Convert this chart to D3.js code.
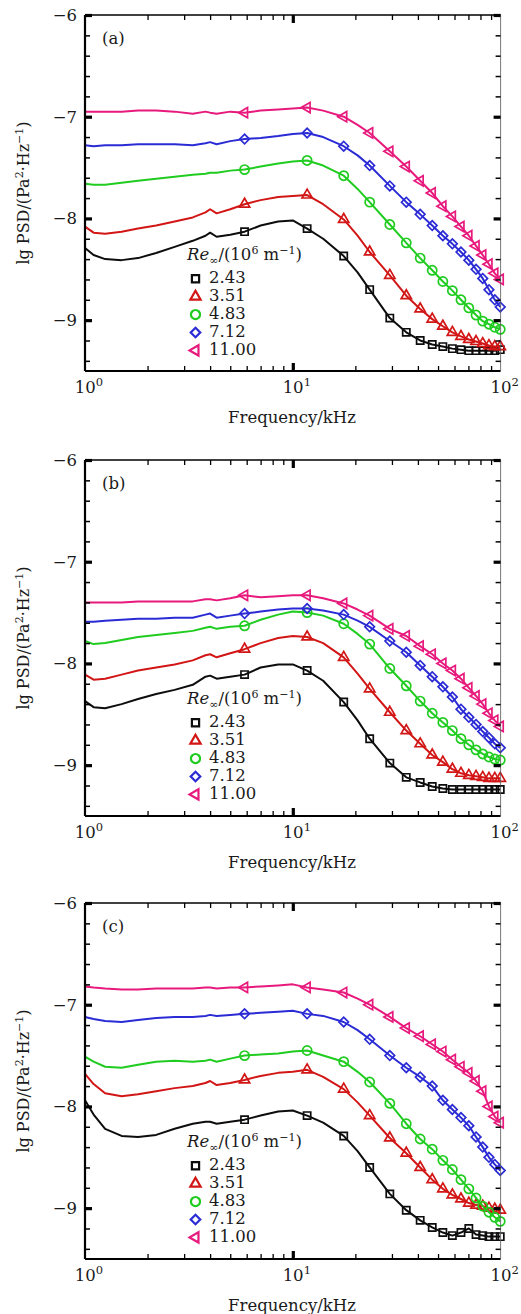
<!DOCTYPE html>
<html lang="en">
<head>
<meta charset="utf-8">
<title>lg PSD spectra</title>
<script src="https://d3js.org/d3.v7.min.js"></script>
<style>
  body { margin: 0; background: #fff; }
  svg { display: block; }
  .lbl { font-family: "DejaVu Serif", "Liberation Serif", serif; fill: #1a1a1a; }
  .axis path { display: none; }
  .axis line { stroke: #000; }
</style>
</head>
<body>
<svg width="521" height="1314"></svg>
<script>
// frequency grid (kHz)
const freq = [1.0, 1.1, 1.25, 1.5, 1.8, 2.2, 2.7, 3.3, 3.8, 4.0, 4.3, 5.0, 5.86, 7.0, 8.5, 10.0,
  11.72, 14.0, 17.58, 20.5, 23.44, 29.3, 35.16, 41.02, 46.88, 52.74, 58.6, 64.46, 70.32, 76.18,
  82.04, 87.9, 93.76, 99.62];
// frequencies carrying a marker symbol
const markFreq = [5.86, 11.72, 17.58, 23.44, 29.3, 35.16, 41.02, 46.88, 52.74, 58.6, 64.46,
  70.32, 76.18, 82.04, 87.9, 93.76, 99.62];

const reNames = ["2.43", "3.51", "4.83", "7.12", "11.00"];
const panelLabels = ["(a)", "(b)", "(c)"];
const yTickLabels = [-6, -7, -8, -9];

// panel (a)
const a243 = [-8.29,-8.36,-8.40,-8.41,-8.39,-8.34,-8.28,-8.22,-8.17,-8.14,-8.18,-8.16,-8.13,-8.07,-8.03,-8.02,
  -8.10,-8.20,-8.37,-8.53,-8.70,-8.98,-9.12,-9.20,-9.24,-9.26,-9.28,-9.29,-9.30,-9.30,-9.30,-9.30,-9.30,-9.29];
const a351 = [-8.08,-8.14,-8.15,-8.13,-8.10,-8.07,-8.03,-7.99,-7.94,-7.91,-7.95,-7.91,-7.86,-7.82,-7.79,-7.78,
  -7.77,-7.86,-8.01,-8.17,-8.33,-8.56,-8.76,-8.89,-8.99,-9.06,-9.12,-9.16,-9.19,-9.21,-9.23,-9.25,-9.26,-9.26];
const a483 = [-7.66,-7.67,-7.67,-7.65,-7.63,-7.61,-7.59,-7.57,-7.56,-7.55,-7.55,-7.53,-7.52,-7.49,-7.46,-7.44,
  -7.43,-7.48,-7.58,-7.71,-7.84,-8.06,-8.24,-8.39,-8.51,-8.62,-8.71,-8.80,-8.88,-8.95,-9.01,-9.04,-9.07,-9.09];
const a712 = [-7.28,-7.29,-7.28,-7.28,-7.27,-7.27,-7.27,-7.28,-7.26,-7.25,-7.27,-7.24,-7.22,-7.21,-7.19,-7.17,
  -7.16,-7.20,-7.29,-7.38,-7.48,-7.68,-7.84,-7.96,-8.07,-8.17,-8.25,-8.33,-8.41,-8.50,-8.59,-8.70,-8.80,-8.87];
const a1100 = [-6.95,-6.95,-6.95,-6.95,-6.94,-6.94,-6.95,-6.97,-6.95,-6.96,-6.97,-6.95,-6.96,-6.94,-6.93,-6.92,
  -6.91,-6.94,-7.00,-7.08,-7.16,-7.34,-7.49,-7.63,-7.75,-7.88,-7.98,-8.08,-8.17,-8.27,-8.36,-8.45,-8.54,-8.60];

// panel (b)
const b243 = [-8.37,-8.43,-8.44,-8.40,-8.35,-8.30,-8.26,-8.21,-8.13,-8.12,-8.15,-8.13,-8.11,-8.04,-8.01,-8.01,
  -8.07,-8.17,-8.38,-8.56,-8.74,-8.98,-9.12,-9.17,-9.21,-9.23,-9.24,-9.24,-9.24,-9.24,-9.24,-9.24,-9.24,-9.24];
const b351 = [-8.11,-8.16,-8.15,-8.11,-8.07,-8.04,-8.01,-7.97,-7.92,-7.91,-7.94,-7.90,-7.86,-7.80,-7.75,-7.73,
  -7.74,-7.80,-7.94,-8.10,-8.25,-8.48,-8.66,-8.79,-8.90,-8.97,-9.04,-9.08,-9.10,-9.11,-9.12,-9.13,-9.13,-9.13];
const b483 = [-7.78,-7.81,-7.80,-7.77,-7.74,-7.72,-7.70,-7.68,-7.65,-7.64,-7.66,-7.64,-7.63,-7.57,-7.52,-7.49,
  -7.50,-7.53,-7.61,-7.71,-7.81,-8.05,-8.22,-8.37,-8.49,-8.58,-8.66,-8.74,-8.80,-8.85,-8.89,-8.92,-8.94,-8.95];
const b712 = [-7.59,-7.59,-7.58,-7.57,-7.56,-7.56,-7.55,-7.55,-7.52,-7.51,-7.55,-7.53,-7.51,-7.49,-7.47,-7.46,
  -7.46,-7.48,-7.52,-7.58,-7.64,-7.78,-7.89,-8.02,-8.13,-8.23,-8.33,-8.45,-8.53,-8.60,-8.67,-8.73,-8.79,-8.83];
const b1100 = [-7.40,-7.40,-7.40,-7.40,-7.39,-7.39,-7.39,-7.39,-7.37,-7.37,-7.38,-7.36,-7.33,-7.35,-7.34,-7.33,
  -7.33,-7.36,-7.41,-7.47,-7.53,-7.66,-7.73,-7.83,-7.91,-8.00,-8.07,-8.15,-8.24,-8.32,-8.40,-8.49,-8.56,-8.62];

// panel (c)
const c243 = [-7.94,-8.08,-8.22,-8.29,-8.30,-8.28,-8.22,-8.17,-8.15,-8.15,-8.17,-8.15,-8.13,-8.09,-8.05,-8.04,
  -8.09,-8.16,-8.29,-8.44,-8.60,-8.86,-9.02,-9.12,-9.19,-9.24,-9.27,-9.24,-9.20,-9.26,-9.27,-9.28,-9.28,-9.28];
const c351 = [-7.68,-7.78,-7.87,-7.90,-7.88,-7.85,-7.82,-7.80,-7.77,-7.75,-7.79,-7.77,-7.74,-7.70,-7.67,-7.66,
  -7.64,-7.71,-7.83,-7.96,-8.09,-8.31,-8.46,-8.60,-8.72,-8.81,-8.87,-8.91,-8.95,-8.97,-8.98,-9.00,-9.01,-9.02];
const c483 = [-7.51,-7.56,-7.61,-7.62,-7.59,-7.56,-7.55,-7.56,-7.55,-7.54,-7.56,-7.53,-7.50,-7.49,-7.48,-7.46,
  -7.45,-7.50,-7.56,-7.66,-7.76,-7.97,-8.17,-8.32,-8.42,-8.53,-8.62,-8.72,-8.81,-8.90,-8.98,-9.04,-9.09,-9.13];
const c712 = [-7.12,-7.14,-7.16,-7.17,-7.15,-7.13,-7.12,-7.12,-7.11,-7.10,-7.11,-7.10,-7.09,-7.08,-7.07,-7.06,
  -7.09,-7.11,-7.17,-7.25,-7.34,-7.50,-7.62,-7.71,-7.80,-7.94,-8.03,-8.11,-8.19,-8.30,-8.40,-8.50,-8.57,-8.63];
const c1100 = [-6.82,-6.83,-6.84,-6.85,-6.85,-6.84,-6.84,-6.84,-6.83,-6.83,-6.84,-6.83,-6.83,-6.82,-6.81,-6.80,
  -6.83,-6.85,-6.88,-6.94,-7.00,-7.12,-7.23,-7.31,-7.39,-7.46,-7.54,-7.61,-7.67,-7.75,-7.85,-8.00,-8.10,-8.16];

const panelSeries = [
  [a243, a351, a483, a712, a1100],
  [b243, b351, b483, b712, b1100],
  [c243, c351, c483, c712, c1100]
];

const colors = ["#0d0d0d", "#d21616", "#1fcc1f", "#2b2bd6", "#e8197c"];
// square, up-triangle, circle, diamond (square turned 45), left-triangle
const symbols = [d3.symbolSquare, d3.symbolTriangle, d3.symbolCircle, d3.symbolSquare, d3.symbolTriangle];
const symSize = [52, 46, 66, 46, 46];
const symRot = [0, 0, 0, 45, -90];

const svg = d3.select("svg");
const left = 85, right = 500.6, ph = 356;
const tops = [15, 460, 903];

const x = d3.scaleLog().domain([1, 100]).range([left, right]);
const yMinor = d3.range(-9.4, -5.99, 0.2).map(v => Math.round(v * 10) / 10);
const xMinor = [2,3,4,5,6,7,8,9,20,30,40,50,60,70,80,90];

tops.forEach((top, p) => {
  const y = d3.scaleLinear().domain([-9.5, -6]).range([top + ph, top]);
  const g = svg.append("g");

  // lines
  const line = d3.line()
    .x((d, i) => x(freq[i]))
    .y(d => y(d));

  panelSeries[p].forEach((vals, s) => {
    g.append("path")
      .attr("d", line(vals))
      .attr("fill", "none")
      .attr("stroke", colors[s])
      .attr("stroke-width", 2)
      .attr("stroke-linejoin", "round");

    const pts = vals.map((v, i) => ({f: freq[i], v: v})).filter(d => markFreq.includes(d.f));
    g.selectAll(null)
      .data(pts)
      .enter()
      .append("path")
      .attr("d", d3.symbol().type(symbols[s]).size(symSize[s]))
      .attr("transform", d => "translate(" + x(d.f) + "," + y(d.v) + ") rotate(" + symRot[s] + ")")
      .attr("fill", "none")
      .attr("stroke", colors[s])
      .attr("stroke-width", 1.7);
  });

  // frame
  g.append("line").attr("x1", left).attr("x2", left).attr("y1", top).attr("y2", top + ph)
    .attr("stroke", "#000").attr("stroke-width", 2.2);
  g.append("line").attr("x1", left).attr("x2", right).attr("y1", top + ph).attr("y2", top + ph)
    .attr("stroke", "#000").attr("stroke-width", 2.2);
  g.append("line").attr("x1", left).attr("x2", right).attr("y1", top).attr("y2", top)
    .attr("stroke", "#000").attr("stroke-width", 1.5);
  g.append("line").attr("x1", right).attr("x2", right).attr("y1", top).attr("y2", top + ph)
    .attr("stroke", "#555").attr("stroke-width", 0.8);

  // y ticks, left and right, inward
  const yl = g.append("g").attr("class", "axis").attr("transform", "translate(" + left + ",0)")
    .call(d3.axisLeft(y).tickValues(yMinor).tickSize(-5).tickFormat(""));
  yl.selectAll(".tick line").filter(d => Number.isInteger(d))
    .attr("x2", 7).attr("stroke-width", 3.2);
  yl.selectAll(".tick line").filter(d => !Number.isInteger(d)).attr("stroke-width", 1.5);

  const yr = g.append("g").attr("class", "axis").attr("transform", "translate(" + right + ",0)")
    .call(d3.axisRight(y).tickValues(yMinor).tickSize(-5).tickFormat(""));
  yr.selectAll(".tick line").filter(d => Number.isInteger(d))
    .attr("x2", -7).attr("stroke-width", 3.2);
  yr.selectAll(".tick line").filter(d => !Number.isInteger(d)).attr("stroke-width", 1.5);

  // x ticks, bottom and top, inward
  const xb = g.append("g").attr("class", "axis").attr("transform", "translate(0," + (top + ph) + ")")
    .call(d3.axisBottom(x).tickValues(xMinor.concat([10])).tickSize(-5).tickFormat(""));
  xb.selectAll(".tick line").attr("stroke-width", 1.3);
  xb.selectAll(".tick line").filter(d => d === 10).attr("y2", -8).attr("stroke-width", 3.2);

  const xt = g.append("g").attr("class", "axis").attr("transform", "translate(0," + top + ")")
    .call(d3.axisTop(x).tickValues(xMinor.concat([10])).tickSize(-5).tickFormat(""));
  xt.selectAll(".tick line").attr("stroke-width", 1.3);
  xt.selectAll(".tick line").filter(d => d === 10).attr("y2", 8).attr("stroke-width", 3.2);

  // y tick labels
  g.selectAll(null)
    .data(yTickLabels)
    .enter()
    .append("text")
    .attr("class", "lbl")
    .attr("x", left - 8)
    .attr("y", d => y(d) + 6)
    .attr("text-anchor", "end")
    .style("font-size", "16.5px")
    .text(d => "\u2212" + Math.abs(d));

  // x tick labels 10^n
  const xl = g.selectAll(null)
    .data([0, 1, 2])
    .enter()
    .append("text")
    .attr("class", "lbl")
    .attr("x", d => x(Math.pow(10, d)) + 4)
    .attr("y", top + ph + 22)
    .attr("text-anchor", "middle")
    .style("font-size", "16.5px");
  xl.append("tspan").text("10");
  xl.append("tspan").attr("dy", -7).style("font-size", "11.5px").text(d => d);

  // axis titles
  g.append("text").attr("class", "lbl")
    .attr("x", 292).attr("y", top + ph + 52)
    .attr("text-anchor", "middle")
    .style("font-size", "16.5px")
    .text("Frequency/kHz");

  const yt = g.append("text").attr("class", "lbl")
    .attr("transform", "translate(29," + (top + ph / 2) + ") rotate(-90)")
    .attr("text-anchor", "middle")
    .style("font-size", "16px");
  yt.append("tspan").text("lg PSD/(Pa");
  yt.append("tspan").attr("dy", -6).style("font-size", "11px").text("2");
  yt.append("tspan").attr("dy", 6).text("\u00B7Hz");
  yt.append("tspan").attr("dy", -6).style("font-size", "11px").text("\u22121");
  yt.append("tspan").attr("dy", 6).text(")");

  // panel label
  g.append("text").attr("class", "lbl")
    .attr("x", 102).attr("y", top + 29)
    .style("font-size", "16.5px")
    .text(panelLabels[p]);

  // legend
  const lgTop = [260, 704, 1147][p];
  const lt = g.append("text").attr("class", "lbl")
    .attr("x", 187).attr("y", lgTop)
    .style("font-size", "16.5px");
  lt.append("tspan").style("font-style", "italic").text("Re");
  lt.append("tspan").attr("dy", 4).style("font-size", "11px").text("\u221E");
  lt.append("tspan").attr("dy", -4).text("/(10");
  lt.append("tspan").attr("dy", -6).style("font-size", "11px").text("6");
  lt.append("tspan").attr("dy", 6).text(" m");
  lt.append("tspan").attr("dy", -6).style("font-size", "11px").text("\u22121");
  lt.append("tspan").attr("dy", 6).text(")");

  reNames.forEach((name, s) => {
    const base = lgTop + 23.3 + s * 17.9;
    g.append("path")
      .attr("d", d3.symbol().type(symbols[s]).size(symSize[s]))
      .attr("transform", "translate(195.5," + (base - 4.5) + ") rotate(" + symRot[s] + ")")
      .attr("fill", "none")
      .attr("stroke", colors[s])
      .attr("stroke-width", 2.2);
    g.append("text").attr("class", "lbl")
      .attr("x", 209).attr("y", base)
      .style("font-size", "16.5px")
      .text(name);
  });
});
</script>
</body>
</html>
